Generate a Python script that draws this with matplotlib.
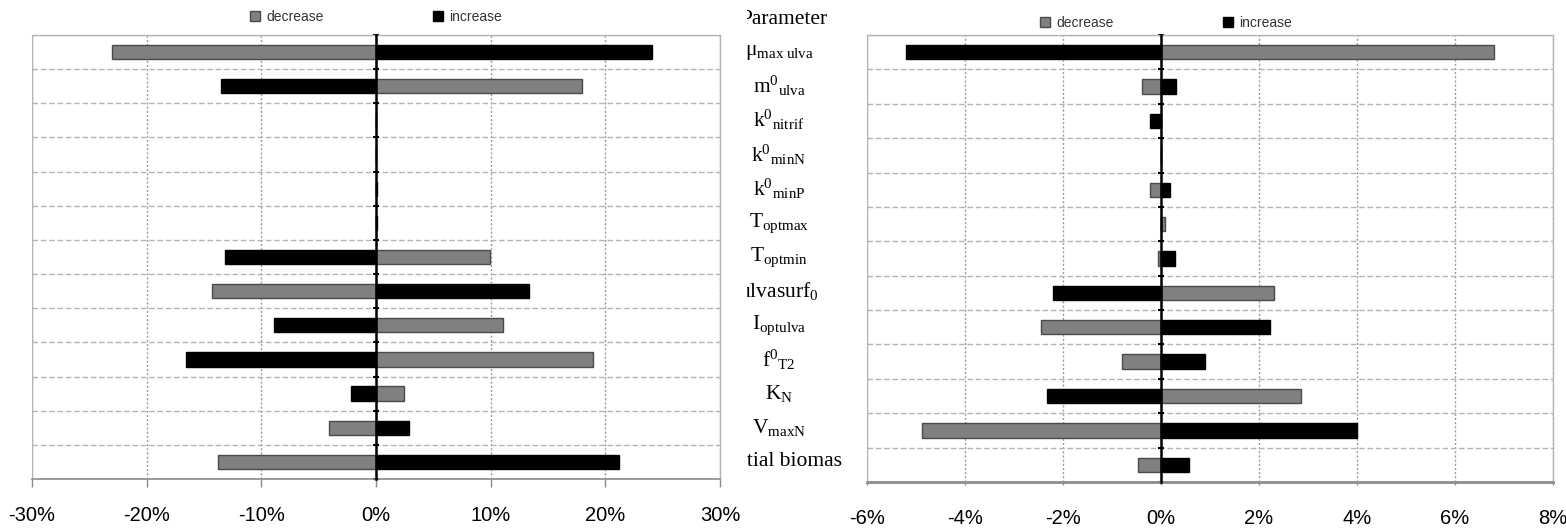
import numpy as np
import matplotlib
matplotlib.use("Agg")
import matplotlib.pyplot as plt
from matplotlib.patches import Patch
from matplotlib.lines import Line2D
from matplotlib.ticker import FuncFormatter
import matplotlib.transforms as mtransforms

# ---------------- data ----------------
parameters = [r'$\mathrm{μ_{max\ ulva}}$', r'$\mathrm{m^{0}{}_{ulva}}$', r'$\mathrm{k^{0}{}_{nitrif}}$',
              r'$\mathrm{k^{0}{}_{minN}}$', r'$\mathrm{k^{0}{}_{minP}}$', r'$\mathrm{T_{optmax}}$',
              r'$\mathrm{T_{optmin}}$', r'$\mathrm{ulvasurf_{0}}$', r'$\mathrm{I_{optulva}}$',
              r'$\mathrm{f^{0}{}_{T2}}$', r'$\mathrm{K_{N}}$', r'$\mathrm{V_{maxN}}$', 'Initial biomass']
series_names = ['decrease', 'increase']

# left panel (%)
left_decrease = [-23.0, 18.0, 0.0, 0.0, 0.0, 0.0, 9.9, -14.3, 11.1, 18.9, 2.4, -4.1, -13.8]
left_increase = [24.1, -13.5, 0.0, 0.0, 0.05, 0.05, -13.2, 13.3, -8.9, -16.6, -2.2, 2.9, 21.2]
left_ticks = [-30, -20, -10, 0, 10, 20, 30]

# right panel (%)
right_decrease = [6.8, -0.38, 0.0, 0.0, -0.23, 0.08, -0.06, 2.3, -2.44, -0.8, 2.86, -4.87, -0.47]
right_increase = [-5.2, 0.31, -0.23, 0.0, 0.18, 0.0, 0.28, -2.21, 2.22, 0.9, -2.33, 4.0, 0.57]
right_ticks = [-6, -4, -2, 0, 2, 4, 6, 8]

# ---------------- style ----------------
plt.rcParams['mathtext.fontset'] = 'custom'
plt.rcParams['mathtext.rm'] = 'Liberation Serif'
plt.rcParams['mathtext.it'] = 'Liberation Serif:italic'
plt.rcParams['mathtext.bf'] = 'Liberation Serif:bold'
plt.rcParams['font.family'] = ['Liberation Sans', 'DejaVu Sans']

W, H = 1566, 528
fig = plt.figure(figsize=(W / 100, H / 100), dpi=100)

GRAY = '#808080'
GRAY_EDGE = '#4a4a4a'
n = len(parameters)
ypos = np.arange(n)


def panel(rect, dec, inc, ticks, bottom_lw, tick_len, pad):
    ax = fig.add_axes(rect)
    ax.barh(ypos, dec, height=0.42, color=GRAY, edgecolor=GRAY_EDGE, linewidth=1, zorder=3)
    ax.barh(ypos, inc, height=0.42, color='black', edgecolor='black', linewidth=1, zorder=3)
    ax.set_ylim(n - 0.5, -0.5)
    ax.set_xlim(ticks[0], ticks[-1])
    ax.set_xticks(ticks)
    ax.xaxis.set_major_formatter(FuncFormatter(lambda v, p: f'{v:.0f}%'))
    ax.set_yticks(np.arange(-0.5, n, 1.0))
    ax.set_yticklabels([])
    ax.spines['left'].set_position(('data', 0))
    ax.spines['left'].set_color('black')
    ax.spines['left'].set_linewidth(1.8)
    ax.spines['left'].set_zorder(4)
    ax.tick_params(axis='y', direction='inout', length=5, width=1.5, color='black')
    ax.grid(axis='y', linestyle=(0, (4, 2)), color='#b4b4b4', linewidth=1)
    ax.grid(axis='x', linestyle=(0, (1.5, 1.5)), color='#9a9a9a', linewidth=1)
    ax.set_axisbelow(True)
    for s in ['top', 'right']:
        ax.spines[s].set_color('#b4b4b4')
        ax.spines[s].set_linewidth(1)
    ax.spines['bottom'].set_color('#8c8c8c')
    ax.spines['bottom'].set_linewidth(bottom_lw)
    ax.tick_params(axis='x', direction='out', length=tick_len, width=1, color='#8c8c8c',
                   pad=pad, labelsize=14.5, labelcolor='black')
    ax.add_line(Line2D([0, 0], [0, 1], transform=ax.transAxes, color='#b4b4b4', lw=1, zorder=2))
    return ax


axL = panel([32 / W, 1 - 479 / H, 688 / W, 444 / H], left_decrease, left_increase, left_ticks, 1.2, 5.8, 13.5)
axR = panel([867 / W, 1 - 482 / H, 686 / W, 447 / H], right_decrease, right_increase, right_ticks, 2.0, 2, 17.5)

# legends
handles = [Patch(facecolor=GRAY, edgecolor=GRAY_EDGE, linewidth=1),
           Patch(facecolor='black', edgecolor='black', linewidth=1)]
for cx, cy in [(376, 17), (1166, 23)]:
    fig.legend(handles, series_names, loc='center', bbox_to_anchor=(cx / W, 1 - cy / H),
               ncol=2, frameon=False, fontsize=10, handlelength=0.72, handleheight=0.72,
               handletextpad=0.45, columnspacing=7.9, borderpad=0, borderaxespad=0,
               labelcolor='#333333')

# middle parameter labels (clipped column)
axM = fig.add_axes([747 / W, 0, 96 / W, 1])
axM.set_xlim(747, 843)
axM.set_ylim(H, 0)
axM.axis('off')
trans = mtransforms.blended_transform_factory(axM.transData, axL.transData)
for i, lab in enumerate(parameters):
    xc = 787 if lab == 'Initial biomass' else 779
    axM.text(xc, ypos[i], lab, transform=trans, ha='center', va='center', fontsize=15.5,
             family='Liberation Serif', clip_on=True)
axM.text(784, 20, 'Parameter', ha='center', va='center', fontsize=15.5,
         family='Liberation Serif', clip_on=True)

fig.savefig('out.png', dpi=100)
